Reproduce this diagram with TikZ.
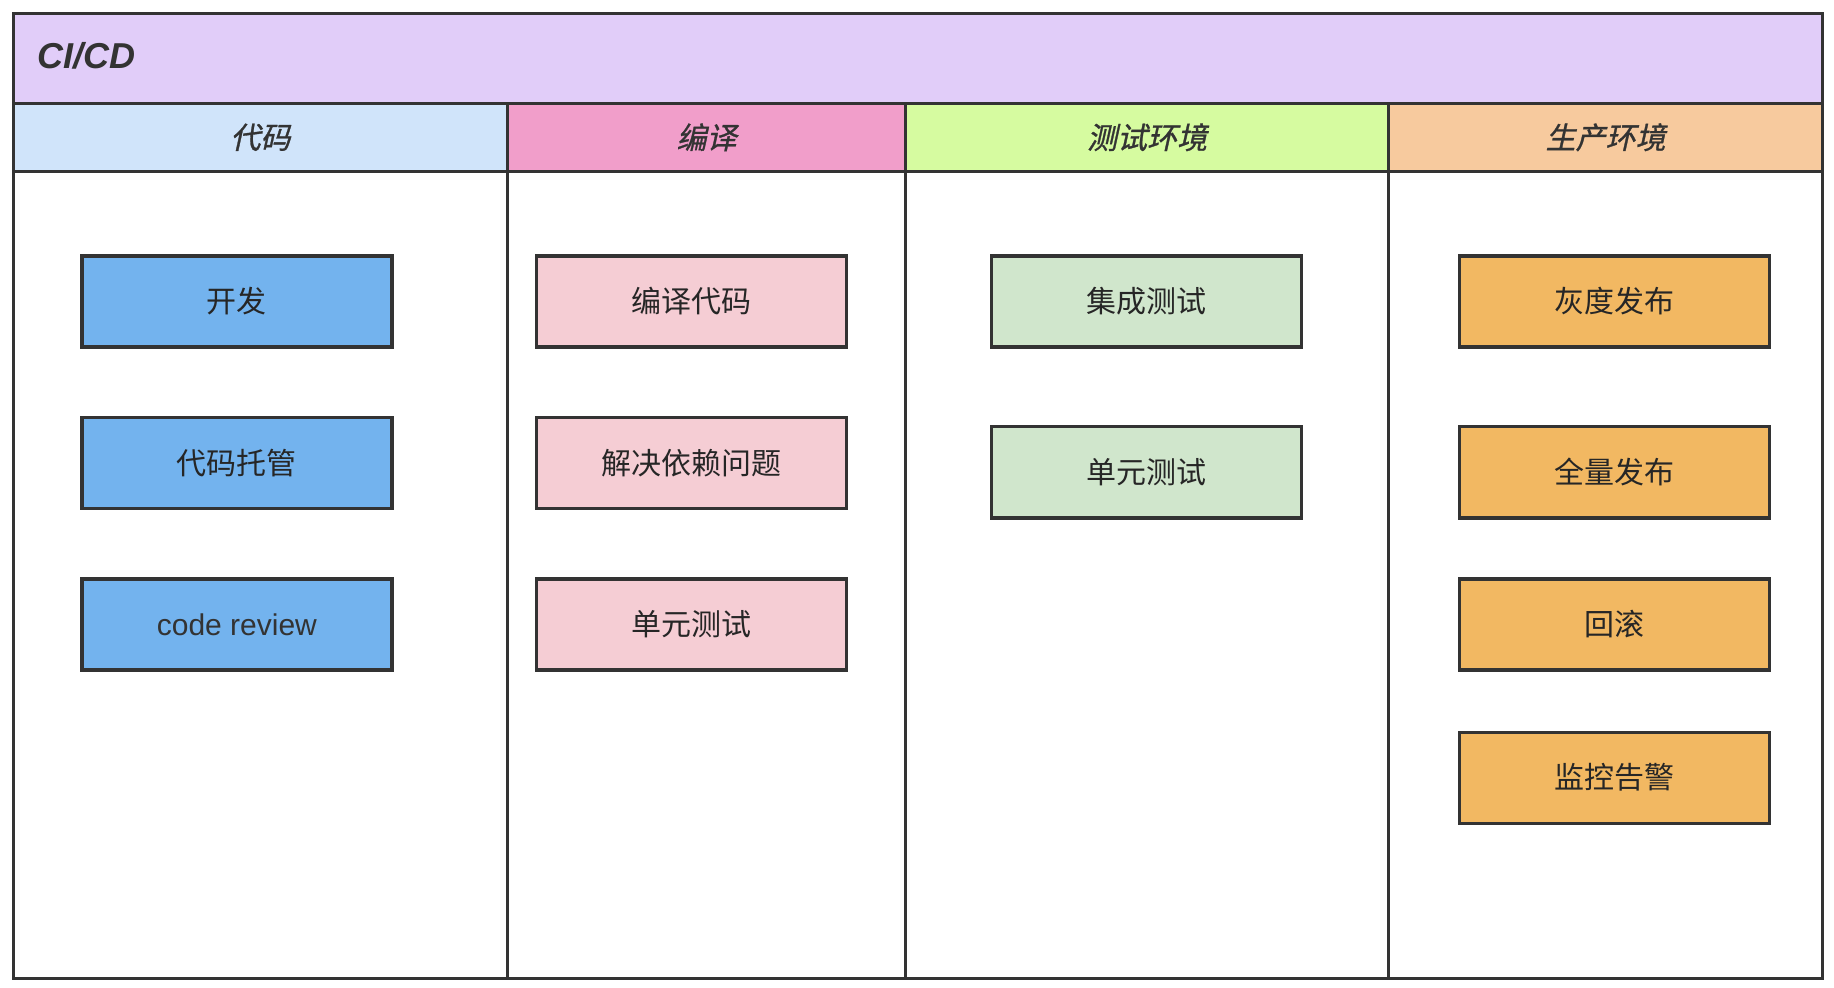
\documentclass[tikz,border=0pt]{standalone}
\usepackage{fontspec}
\setmainfont{Liberation Sans}
\newfontfamily\cjk{Noto Sans CJK SC}
\newfontfamily\cjkit{Noto Sans CJK SC}[FakeSlant=0.22,FakeBold=1]
\definecolor{ttlbg}{HTML}{E1CDF9}
\definecolor{hA}{HTML}{D0E4FA}
\definecolor{hB}{HTML}{F19ECA}
\definecolor{hC}{HTML}{D6FBA0}
\definecolor{hD}{HTML}{F7CA9E}
\definecolor{bA}{HTML}{73B3EE}
\definecolor{bB}{HTML}{F5CDD4}
\definecolor{bC}{HTML}{D0E6CC}
\definecolor{bD}{HTML}{F2B862}
\definecolor{ink}{HTML}{333333}
\tikzset{
  cell/.style={draw=ink, line width=1.6pt, inner sep=0pt, anchor=north west},
  hdr/.style={cell, minimum height=33.9pt, font=\cjkit\fontsize{15pt}{18pt}\selectfont, text=ink},
  task/.style={draw=ink, line width=1.6pt, inner sep=0pt, minimum width=155pt, minimum height=45.5pt, font=\cjk\fontsize{15pt}{18pt}\selectfont, text=black!85},
}
\begin{document}
\begin{tikzpicture}[x=0.5pt, y=-0.5pt]
\useasboundingbox (0,0) rectangle (1834,988);
\fill[white] (0,0) rectangle (1834,988);
% title band
\node[cell, fill=ttlbg, minimum width=904.65pt, minimum height=45pt] (title) at (11.7,11.7) {};
\node[anchor=west, inner sep=0pt, text=ink, font=\bfseries\itshape\fontsize{18pt}{22pt}\selectfont] (ttl) at (37,56) {CI/CD};
% header cells
\node[hdr, fill=hA, minimum width=247.15pt] (h1) at (11.7,101.8) {代码};
\node[hdr, fill=hB, minimum width=199pt] (h2) at (506,101.8) {编译};
\node[hdr, fill=hC, minimum width=241.5pt] (h3) at (904,101.8) {测试环境};
\node[hdr, fill=hD, minimum width=217pt] (h4) at (1387,101.8) {生产环境};
% body columns
\node[cell, minimum width=247.15pt, minimum height=403.7pt] (c1) at (11.7,169.6) {};
\node[cell, minimum width=199pt, minimum height=403.7pt] (c2) at (506,169.6) {};
\node[cell, minimum width=241.5pt, minimum height=403.7pt] (c3) at (904,169.6) {};
\node[cell, minimum width=217pt, minimum height=403.7pt] (c4) at (1387,169.6) {};
% column 1
\node[task, fill=bA] (a1) at (236.9,301.5) {开发};
\node[task, fill=bA] (a2) at (236.9,463) {代码托管};
\node[task, fill=bA, font=\fontsize{15pt}{18pt}\selectfont, text=ink] (a3) at (236.9,624.4) {code review};
% column 2
\node[task, fill=bB] (b1) at (691.3,301.5) {编译代码};
\node[task, fill=bB] (b2) at (691.3,463) {解决依赖问题};
\node[task, fill=bB] (b3) at (691.3,624.4) {单元测试};
% column 3
\node[task, fill=bC] (t1) at (1146.2,301.5) {集成测试};
\node[task, fill=bC] (t2) at (1146.2,472.4) {单元测试};
% column 4
\node[task, fill=bD] (p1) at (1614.1,301.5) {灰度发布};
\node[task, fill=bD] (p2) at (1614.1,472.4) {全量发布};
\node[task, fill=bD] (p3) at (1614.1,624.4) {回滚};
\node[task, fill=bD] (p4) at (1614.1,777.6) {监控告警};
\end{tikzpicture}
\end{document}
